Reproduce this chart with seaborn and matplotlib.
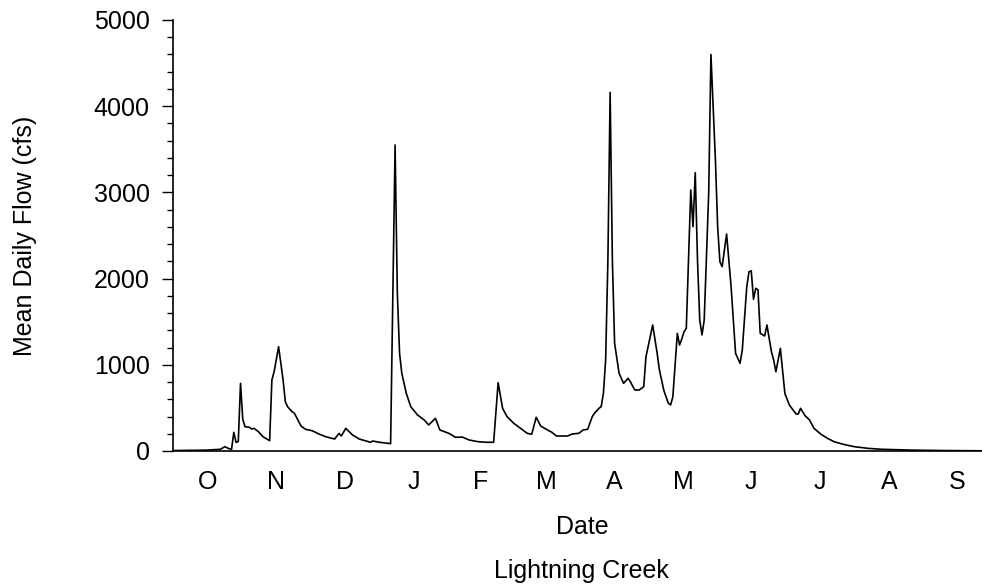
'''
plot.py

Mean daily flow hydrograph, Lightning Creek (water year Oct - Sep).
'''

import numpy as np
import pandas as pd
import matplotlib
matplotlib.use('Agg')
import matplotlib.pyplot as plt
import seaborn as sns
from matplotlib.ticker import MultipleLocator

# Data: day of water year (0 = Oct 1) and flow in cfs
days = [0, 10, 15, 21, 23, 25, 26, 27, 28, 29, 30, 31, 32, 34, 35, 36, 38, 40,
        43, 44, 45, 47, 49, 50, 51, 53, 54, 55, 57, 59, 62, 65, 68, 72, 74, 75,
        77, 80, 83, 88, 89, 92, 97, 99, 100, 101, 102, 104, 106, 109, 112, 114,
        117, 119, 123, 126, 129, 132, 136, 140, 143, 145, 147, 149, 152, 155,
        158, 160, 162, 164, 167, 169, 171, 176, 178, 181, 183, 185, 187, 188,
        190, 191, 192, 193, 194, 195, 196, 197, 199, 201, 203, 204, 206, 208,
        210, 211, 214, 216, 217, 219, 221, 222, 223, 225, 226, 227, 228, 229,
        231, 232, 233, 234, 235, 236, 237, 239, 240, 242, 243, 244, 245, 247,
        249, 251, 253, 254, 256, 257, 258, 259, 260, 261, 262, 264, 265, 267,
        268, 269, 271, 273, 275, 278, 279, 280, 282, 284, 286, 289, 292, 295,
        299, 304, 310, 316, 330, 345, 364]
flow = [5, 8, 10, 20, 50, 25, 20, 217, 100, 110, 785, 368, 282, 275, 255, 263,
        224, 166, 120, 824, 920, 1210, 824, 572, 514, 456, 440, 391, 290, 252,
        235, 197, 166, 139, 205, 174, 263, 186, 139, 101, 116, 101, 85, 3550,
        1830, 1133, 901, 669, 514, 418, 360, 302, 379, 244, 205, 159, 162, 128,
        108, 101, 101, 792, 495, 398, 321, 263, 205, 194, 391, 290, 244, 217,
        174, 174, 197, 205, 244, 252, 398, 437, 495, 514, 669, 1056, 2216, 4160,
        2216, 1249, 901, 785, 843, 804, 708, 708, 746, 1094, 1462, 1133, 940,
        700, 553, 534, 630, 1365, 1230, 1300, 1384, 1423, 3028, 2602, 3228,
        2216, 1520, 1346, 1520, 2989, 4600, 3376, 2602, 2196, 2138, 2517, 1906,
        1133, 1017, 1172, 1906, 2080, 2090, 1760, 1887, 1870, 1365, 1334, 1462,
        1152, 1056, 920, 1191, 669, 534, 429, 429, 495, 410, 360, 263, 197, 147,
        108, 78, 50, 31, 20, 10, 5, 2]

months = ['O', 'N', 'D', 'J', 'F', 'M', 'A', 'M', 'J', 'J', 'A', 'S']
month_len = [31, 30, 31, 31, 28, 31, 30, 31, 30, 31, 31, 30]

df = pd.DataFrame({'day': days, 'flow': flow})

# month labels centred in each month
starts = np.concatenate([[0], np.cumsum(month_len)[:-1]])
mid = starts + np.array(month_len) / 2

sns.set_style('ticks')
plt.rcParams['font.family'] = ['Liberation Sans', 'DejaVu Sans']
plt.rcParams['text.color'] = 'black'
plt.rcParams['axes.labelcolor'] = 'black'
plt.rcParams['xtick.color'] = 'black'
plt.rcParams['ytick.color'] = 'black'
FS = 18

fig = plt.figure(figsize=(9.82, 5.88), dpi=100)
ax = fig.add_axes([0.1765, 0.233, 0.8326, 0.733])

sns.lineplot(data=df, x='day', y='flow', color='black', linewidth=1.2, ax=ax)

ax.set_xlim(0, 365)
ax.set_ylim(0, 5000)
ax.set_xticks(mid)
ax.set_xticklabels(months)
ax.yaxis.set_major_locator(MultipleLocator(1000))
ax.yaxis.set_minor_locator(MultipleLocator(200))
ax.tick_params(axis='x', length=0, pad=14, labelsize=FS, labelcolor='black')
ax.tick_params(axis='y', which='major', length=8, width=1, pad=9,
               labelsize=FS, color='black', labelcolor='black')
ax.tick_params(axis='y', which='minor', length=4.5, width=1, color='black')

sns.despine(ax=ax)
for side in ['left', 'bottom']:
    ax.spines[side].set_color('black')
    ax.spines[side].set_linewidth(1.2)

ax.set_xlabel('Date', fontsize=FS, va='center', color='black')
ax.set_ylabel('Mean Daily Flow (cfs)', fontsize=FS, va='center',
              color='black')
ax.xaxis.set_label_coords(0.5, -0.176)
ax.yaxis.set_label_coords(-0.1814, 0.5)

fig.text(0.592, 0.029, 'Lightning Creek', fontsize=FS, ha='center',
         va='center', color='black')

fig.savefig('out.png', dpi=100)
